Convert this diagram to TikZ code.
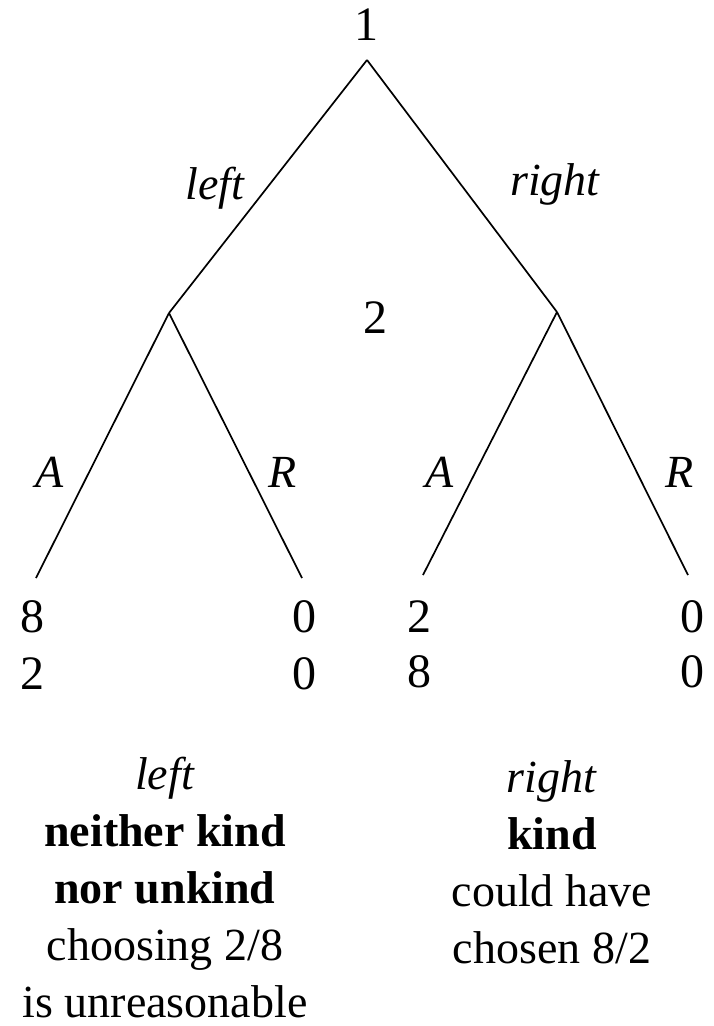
\documentclass[tikz,border=0pt]{standalone}
\usepackage{fontspec}
\setmainfont{Liberation Serif}
\usetikzlibrary{positioning}

\begin{document}
\begin{tikzpicture}[x=1pt, y=-1pt,
        edge/.style={line width=1.7pt},
        player/.style={font=\fontsize{48}{56}\selectfont, inner sep=0pt},
        payoff/.style={font=\fontsize{48}{56}\selectfont, inner sep=0pt},
        actlabel/.style={font=\fontsize{46}{54}\selectfont\itshape, inner sep=0pt},
        remark/.style={font=\fontsize{46}{57}\selectfont, align=center, anchor=base, inner sep=0pt}
    ]
    \useasboundingbox (0,0) rectangle (713,1026);

    % Knoten
    \coordinate (root) at (367,60);
    \coordinate (nl) at (169,313);
    \coordinate (nr) at (557,312);
    \coordinate (lA) at (36,578);
    \coordinate (lR) at (302,578);
    \coordinate (rA) at (423,575);
    \coordinate (rR) at (688,575);

    \node[player] (p1) at (366,25) {1};
    \node[player] (p2) at (375,318) {2};

    % Kanten zwischen Knoten
    \draw[edge] (root) -- (nl);
    \draw[edge] (root) -- (nr);
    \draw[edge] (nl) -- (lA);
    \draw[edge] (nl) -- (lR);
    \draw[edge] (nr) -- (rA);
    \draw[edge] (nr) -- (rR);

    % Beschriftungen
    \node[actlabel, anchor=base] (tleft) at (215,199) {left};
    \node[actlabel, anchor=base] (tright) at (555,195) {right};
    \node[actlabel] (tlA) at (50,472) {A};
    \node[actlabel] (tlR) at (283,472) {R};
    \node[actlabel] (trA) at (440,472) {A};
    \node[actlabel] (trR) at (680,472) {R};

    % Auszahlungen
    \node[payoff] (u1) at (32,617) {8};
    \node[payoff] (u2) at (32,674) {2};
    \node[payoff] (u3) at (304,617) {0};
    \node[payoff] (u4) at (304,674) {0};
    \node[payoff] (u5) at (419,617) {2};
    \node[payoff] (u6) at (419,672) {8};
    \node[payoff] (u7) at (692,617) {0};
    \node[payoff] (u8) at (692,672) {0};

    % Kommentare (base = letzte Zeile)
    \node[remark] (cl) at (165,1017) {\textit{left}\\\textbf{neither kind}\\\textbf{nor unkind}\\choosing 2/8\\is unreasonable};
    \node[remark] (cr) at (552,963) {\textit{right}\\\textbf{kind}\\could have\\chosen 8/2};

\end{tikzpicture}
\end{document}
